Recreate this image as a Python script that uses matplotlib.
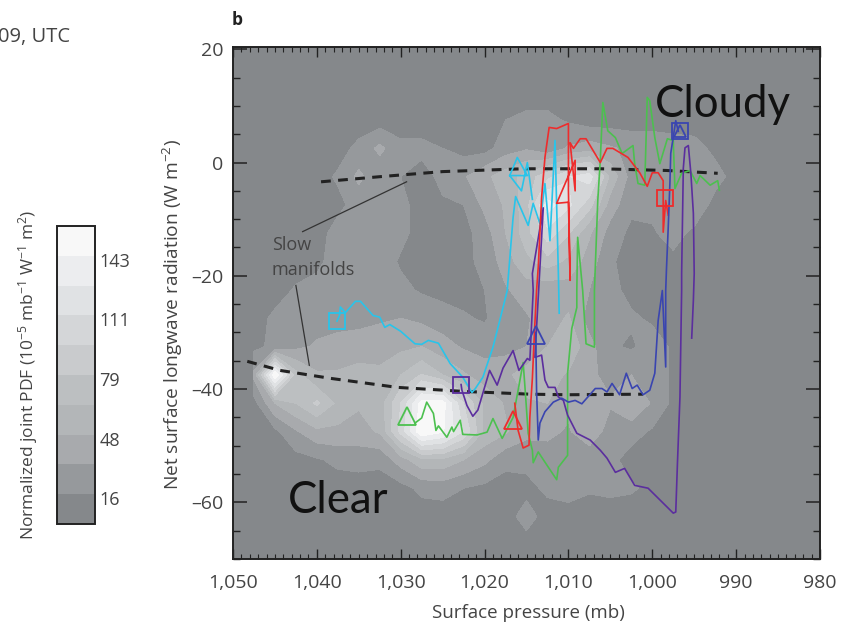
# coding: utf-8
import matplotlib
matplotlib.use('Agg')
import matplotlib.pyplot as plt
from matplotlib.ticker import MultipleLocator, FuncFormatter
from matplotlib.transforms import ScaledTranslation
import numpy as np

plt.rcParams['font.family'] = ['Open Sans', 'DejaVu Sans']
plt.rcParams['mathtext.default'] = 'regular'

# joint PDF
pressure_grid = [1047.5, 1045, 1042.5, 1040, 1037.5, 1035, 1032.5, 1030, 1027.5, 1025, 1022.5, 1020,
                 1017.5, 1015, 1012.5, 1010, 1007.5, 1005, 1002.5, 1000, 997.5, 995, 992.5, 990]
flux_grid = [12.5, 7.5, 2.5, -2.5, -7.5, -12.5, -17.5, -22.5, -27.5, -32.5, -37.5, -42.5, -47.5, -52.5,
             -57.5, -62.5, -67.5]
pdf_values = [
    [8, 8, 8, 8, 8, 8, 8, 8, 8, 8, 8, 8, 8, 8, 8, 8, 8, 8, 8, 8, 8, 8, 8, 8],
    [8, 8, 8, 8, 8, 8, 8, 8, 8, 8, 8, 8, 16, 20, 20, 14, 8, 8, 8, 8, 8, 8, 8, 8],
    [8, 8, 8, 8, 10, 20, 36, 20, 20, 16, 10, 10, 24, 30, 20, 34, 40, 34, 28, 28, 24, 22, 12, 8],
    [8, 8, 8, 10, 18, 36, 20, 16, 10, 20, 30, 44, 56, 70, 90, 110, 120, 60, 25, 30, 30, 30, 22, 10],
    [8, 8, 8, 8, 12, 22, 20, 20, 10, 14, 16, 36, 50, 72, 135, 115, 85, 40, 20, 20, 32, 28, 10, 8],
    [8, 8, 8, 10, 22, 24, 24, 20, 10, 10, 10, 24, 48, 72, 105, 80, 50, 25, 12, 14, 22, 12, 8, 8],
    [8, 8, 8, 12, 24, 24, 24, 14, 10, 10, 12, 20, 40, 60, 72, 60, 40, 18, 10, 10, 12, 8, 8, 8],
    [8, 8, 18, 22, 24, 24, 22, 20, 14, 10, 10, 16, 30, 40, 36, 40, 32, 20, 12, 10, 8, 8, 8, 8],
    [8, 20, 24, 26, 26, 28, 30, 32, 28, 24, 18, 14, 28, 30, 40, 50, 24, 32, 18, 14, 12, 8, 8, 8],
    [12, 20, 28, 34, 38, 38, 40, 44, 48, 38, 30, 26, 26, 32, 48, 60, 38, 18, 14, 22, 14, 8, 8, 8],
    [36, 158, 70, 50, 50, 55, 52, 64, 80, 64, 50, 40, 44, 56, 54, 46, 36, 26, 32, 28, 12, 8, 8, 8],
    [10, 48, 64, 82, 60, 50, 56, 95, 150, 150, 95, 60, 46, 46, 48, 36, 34, 34, 48, 30, 12, 8, 8, 8],
    [8, 12, 30, 44, 44, 42, 50, 100, 158, 145, 110, 60, 50, 36, 36, 30, 44, 24, 22, 14, 8, 8, 8, 8],
    [8, 8, 10, 14, 20, 22, 20, 40, 60, 60, 48, 36, 20, 22, 24, 22, 20, 20, 10, 8, 8, 8, 8, 8],
    [8, 8, 8, 8, 8, 8, 8, 10, 20, 22, 16, 12, 10, 10, 20, 24, 18, 20, 18, 12, 8, 8, 8, 8],
    [8, 8, 8, 8, 8, 8, 8, 8, 8, 8, 8, 8, 8, 24, 8, 8, 8, 8, 8, 8, 8, 8, 8, 8],
    [8, 8, 8, 8, 8, 8, 8, 8, 8, 8, 8, 8, 8, 8, 8, 8, 8, 8, 8, 8, 8, 8, 8, 8],
]
pdf_levels = [0, 16, 32, 48, 64, 79, 95, 111, 127, 143, 160]
pdf_colors = ['#85888b', '#96999c', '#a8aaad', '#b3b6b8', '#bcbfc1', '#c9cbcd', '#d4d6d8', '#e0e2e4',
              '#ecedef', '#f8f8f8']
pdf_ticks = [16, 48, 79, 111, 143]

# trajectories
cyan_p = [1037.6, 1037.3, 1037.2, 1036.6, 1035.4, 1034.8, 1033.3, 1032.5, 1031.9, 1031.3, 1030, 1028.3, 1027.5,
          1026.7, 1025.5, 1024.1, 1022.6, 1021.5, 1021.1, 1020.2, 1019, 1017.8, 1017.3, 1016.6, 1016.3, 1014.8,
          1014.2, 1013.4, 1012.8, 1012.2, 1011.6, 1011.2, 1011.1]
cyan_w = [-28, -27, -25.5, -26.5, -24.5, -24.5, -27, -27.3, -29.1, -28.6, -29.8, -32, -32.1, -31.4, -31.9, -35.5,
          -37.9, -40.6, -39.9, -37.9, -32.6, -25.6, -22.6, -9.7, -6, -11.1, -7.2, -10.8, -3.7, -13.8, 3.9, -19.6,
          -26.6]
cyan2_p = [1017, 1016.1, 1014.9, 1017, 1015.6, 1014.9, 1014.3]
cyan2_w = [-2.3, 0.9, -2.3, -2.3, -5, 0, -6.5]

green_p = [1028.3, 1027.5, 1026.9, 1026.1, 1025.8, 1025.5, 1024.5, 1023.9, 1023.7, 1022.9, 1022.6, 1020.9, 1019.7,
           1019, 1017.9, 1016.6, 1016, 1015.4, 1015.2, 1014.8, 1014.3, 1014.2, 1013.6, 1012.8, 1011.4, 1011.2, 1010.1,
           1010.1, 1009.6, 1009, 1009, 1008.9, 1008.3, 1007.9, 1006.9, 1006.9, 1006.5, 1006.2, 1005.9, 1005.3, 1004.4,
           1003.6, 1002.3, 1002.1, 1001.7, 1000.9, 1000.6, 1000.3, 999.7, 999.1, 998.2, 997.5, 997.3, 996.5, 995.5,
           994.7, 994.3, 993.1, 992.2, 992]
green_w = [-46, -45.1, -42.3, -44.3, -47.3, -46.5, -48.5, -46.7, -47.5, -45.5, -48, -48.1, -47.6, -45.2, -48.7, -45,
           -40.2, -35.3, -39.3, -47.8, -50.8, -53, -51.1, -52.9, -56, -53.8, -51.7, -37.2, -29.3, -25.6, -22.6, -13.2,
           -22.6, -32, -32.6, -22.6, -6.7, 0.4, 10.6, 5.6, 4.4, 1.6, 3, -0.2, -3.7, -4, 11.5, 10.9, 4.4, -0.2, 4.2,
           3.9, -4.6, -1.9, -1.4, -3.7, -2.3, -4, -3.2, -4.9]

red_p = [1016.4, 1016, 1015.4, 1014.7, 1014.6, 1014.3, 1014, 1013.8, 1013.6, 1013.2, 1012.8, 1012.3, 1011.4, 1010,
         1010, 1009.8, 1010, 1011.4, 1009.2, 1009.2, 1009.8, 1009.4, 1008.6, 1007.9, 1006.2, 1005.4, 1004.7, 1002.9,
         1001.5, 1000.6, 1000, 999.3, 998.7, 998.7, 998.7, 998.4, 998.1]
red_w = [-42.5, -47.3, -50.4, -49.9, -45, -38.1, -28.4, -22.6, -18.5, -6.2, 0.9, 6.2, 6, 6.9, -4.9, -20.8, -7, -7.2,
         0.4, -5, 3.5, 2.5, 4.2, 4.2, 0, 2.5, 2.5, 0.9, -1.8, -4.2, -1.8, -1.8, -3.2, -6.2, -12.3, -6.7, -9.3]

blue_p = [1013.9, 1013.8, 1013.6, 1013.4, 1012.8, 1011.8, 1010.8, 1010, 1009.2, 1008.4, 1006.8, 1006, 1005.4, 1004.8,
          1003.9, 1003.1, 1002.4, 1001.8, 1001.1, 1000.3, 999.7, 999.3, 998.8, 998.4, 998.4, 998.3, 998.1, 997.9,
          997.8, 997.2, 996.9]
blue_w = [-30, -40.2, -49, -46, -44, -42.3, -41.6, -42.3, -42, -42.6, -39.9, -39.9, -40.5, -39, -41, -37.2, -39.9,
          -39.3, -41, -40.2, -37.2, -27.9, -22.6, -36.1, -22.6, -18.5, -11.5, -3.7, 1.6, 7.4, 5.5]

purple_p = [1022.8, 1022.7, 1022.1, 1021.4, 1020.8, 1019.4, 1018.5, 1017.8, 1016.6, 1015.9, 1014.9, 1014.6, 1014.2,
            1014.3, 1013, 1014, 1013.2, 1012.8, 1012.4, 1011.6, 1011.2, 1010.6, 1010.1, 1009, 1007.4, 1006.2, 1005.4,
            1004.4, 1003.3, 1002.1, 1000.5, 997.5, 997.2, 997, 996.7, 996.5, 996.5, 996.3, 996.1, 995.7, 995.4, 995.1,
            995, 995.1, 995.3]
purple_w = [-39.2, -40.2, -42.9, -44.8, -43.7, -36.7, -39.3, -36.3, -33.2, -36.7, -34.6, -34.9, -22.6, -19.6, -8,
            -34.4, -34, -38.4, -39.7, -39.7, -41.4, -42, -44.6, -47.8, -49, -50.8, -52.2, -54.7, -54, -57, -57.5, -61.9,
            -61.7, -53.1, -41.4, -22.6, -19.6, -1, 2.6, 3, -1.9, -9, -19.6, -24.3, -31]

# slow manifolds
upper_p = [1039.5, 1032.5, 1025, 1015.4, 1006.2, 998.3, 992.2]
upper_w = [-3.4, -2.5, -1.6, -1.1, -1.1, -1.4, -1.9]
lower_p = [1048.3, 1044.4, 1038.4, 1030.4, 1022.6, 1014.6, 1010.2, 1001.1]
lower_w = [-35.1, -36.7, -38.1, -39.7, -40.4, -40.9, -41, -40.9]

square_p = [1037.6, 1022.8, 998.5, 996.7]
square_w = [-28, -39.2, -6.2, 5.5]
square_c = ['#29c4ea', '#5b2e9e', '#ee2c2c', '#3a45b0']
triangle_p = [1029.3, 1016.6, 1013.9, 996.7]
triangle_w = [-44.8, -45.5, -30.5, 5.6]
triangle_c = ['#4cc04f', '#ee2c2c', '#3a45b0', '#3a45b0']


def main():
    fig = plt.figure(figsize=(8.47, 6.26), dpi=100)
    fig.patch.set_facecolor('white')
    W, H = 847.0, 626.0

    ax = fig.add_axes([233 / W, 1 - 559 / H, 587 / W, 512 / H])
    ax.set_facecolor(pdf_colors[0])
    cs = ax.contourf(pressure_grid, flux_grid, np.array(pdf_values), levels=pdf_levels, colors=pdf_colors)

    ax.plot(lower_p, lower_w, color='#222222', lw=2.2, ls=(0, (3.2, 2.4)), zorder=3)
    ax.plot(upper_p, upper_w, color='#222222', lw=2.2, ls=(0, (3.2, 2.4)), zorder=3)

    ax.plot(cyan_p, cyan_w, color='#29c4ea', lw=1.2, zorder=4)
    ax.plot(cyan2_p, cyan2_w, color='#29c4ea', lw=1.2, zorder=4)
    ax.plot(green_p, green_w, color='#4cc04f', lw=1.2, zorder=4)
    ax.plot(purple_p, purple_w, color='#5b2e9e', lw=1.2, zorder=5)
    ax.plot(red_p, red_w, color='#ee2c2c', lw=1.2, zorder=5)
    ax.plot(blue_p, blue_w, color='#3a45b0', lw=1.2, zorder=6)

    for p, w, c in zip(square_p, square_w, square_c):
        ax.plot([p], [w], marker='s', ms=11.5, mfc='none', mec=c, mew=1.3, zorder=7)
    for p, w, c in zip(triangle_p, triangle_w, triangle_c):
        size = 9 if p == 996.7 else 13.5
        ax.plot([p], [w], marker='^', ms=size, mfc='none', mec=c, mew=1.3, zorder=7)

    ax.plot([1029.3, 1041.7], [-3.4, -12.2], color='#333333', lw=0.9, zorder=3)
    ax.plot([1042.5, 1040.9], [-21.7, -35.8], color='#333333', lw=0.9, zorder=3)
    ax.text(1045.4, -14.6, 'Slow', fontsize=13, color='#444444', va='center', zorder=8)
    ax.text(1045.4, -18.9, 'manifolds', fontsize=13, color='#444444', va='center', zorder=8)

    ax.text(999.7, 10.2, 'Cloudy', family=['Lato', 'DejaVu Sans'], fontsize=31.5, color='#111111',
            va='center', ha='left', zorder=9)
    ax.text(1043.4, -59.6, 'Clear', family=['Lato', 'DejaVu Sans'], fontsize=31.5, color='#111111',
            va='center', ha='left', zorder=9)

    ax.set_xlim(1050, 980)
    ax.set_ylim(-70, 20.4)
    ax.xaxis.set_major_locator(MultipleLocator(10))
    ax.xaxis.set_minor_locator(MultipleLocator(1))
    ax.yaxis.set_major_locator(MultipleLocator(20))
    ax.yaxis.set_minor_locator(MultipleLocator(5))
    ax.xaxis.set_major_formatter(FuncFormatter(lambda v, pos: '{:,.0f}'.format(v)))
    ax.yaxis.set_major_formatter(FuncFormatter(lambda v, pos: '{:.0f}'.format(v).replace('-', '\u2013')))
    ax.tick_params(axis='x', which='major', direction='in', top=True, bottom=True, length=7.5, width=1.0,
                   color='#222222', labelsize=14, labelcolor='#444444', pad=11)
    ax.tick_params(axis='x', which='minor', direction='in', top=True, bottom=True, length=3.5, width=0.8,
                   color='#222222')
    ax.tick_params(axis='y', which='major', direction='in', left=True, right=True, length=10, width=1.1,
                   color='#222222', labelsize=14, labelcolor='#444444', pad=7)
    ax.tick_params(axis='y', which='minor', direction='in', left=True, right=True, length=5, width=1.0,
                   color='#222222')
    for s in ax.spines.values():
        s.set_linewidth(1.4)
        s.set_color('#222222')

    fig.text(528 / W, 1 - 613 / H, 'Surface pressure (mb)', fontsize=13.5, color='#444444', ha='center', va='center')
    fig.text(173 / W, 1 - 315 / H, 'Net surface longwave radiation (W m$^{-2}$)', rotation=90, fontsize=13.8,
             color='#444444', ha='center', va='center')

    cax = fig.add_axes([57 / W, 1 - 524 / H, 38 / W, 298 / H])
    cb = fig.colorbar(cs, cax=cax, ticks=pdf_ticks)
    cb.ax.tick_params(length=0, labelsize=13, labelcolor='#444444', pad=3)
    cb.outline.set_linewidth(1.4)
    cb.outline.set_edgecolor('#222222')
    # labels sit just under their band edge
    for lab in cb.ax.get_yticklabels():
        lab.set_transform(lab.get_transform() + ScaledTranslation(0, -4 / 100.0, fig.dpi_scale_trans))

    fig.text(28 / W, 1 - 375 / H, 'Normalized joint PDF (10$^{-5}$ mb$^{-1}$ W$^{-1}$ m$^{2}$)', rotation=90,
             fontsize=12.5, color='#444444', ha='center', va='center')
    fig.text(232 / W, 1 - 20 / H, 'b', fontsize=12.5, fontweight='bold', color='#222222', ha='left', va='center')
    fig.text(-2 / W, 1 - 37 / H, '09, UTC', fontsize=14.5, color='#444444', ha='left', va='center')

    fig.savefig('out.png', dpi=100)


### MAIN ####
if __name__ == '__main__':
    main()
